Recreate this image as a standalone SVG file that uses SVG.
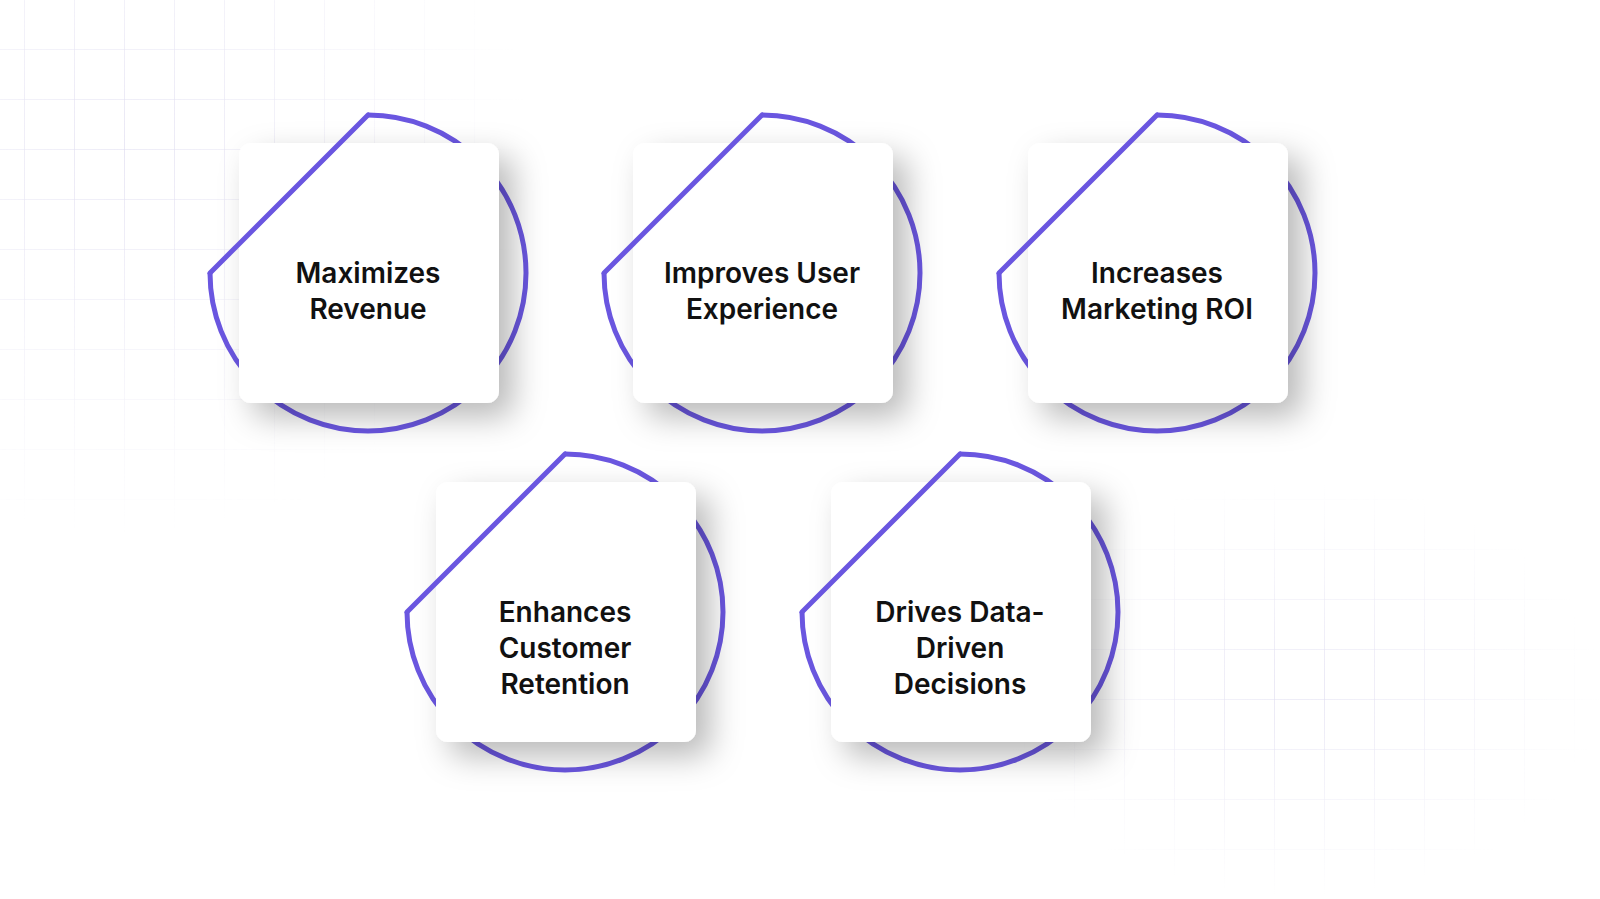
<svg xmlns="http://www.w3.org/2000/svg" width="1600" height="899" viewBox="0 0 1600 899">
<defs>
<pattern id="grid" x="25" y="0" width="50" height="50" patternUnits="userSpaceOnUse"><path d="M50 0V50M0 50H50" fill="none" stroke="#dcd9ef" stroke-width="1.2"/></pattern>
<radialGradient id="g1" cx="0.2" cy="0.25" r="0.65"><stop offset="0" stop-color="#fff"/><stop offset="1" stop-color="#000"/></radialGradient>
<radialGradient id="g2" cx="0.5" cy="0.5" r="0.5"><stop offset="0" stop-color="#fff"/><stop offset="1" stop-color="#000"/></radialGradient>
<mask id="m1"><rect x="0" y="0" width="620" height="600" fill="url(#g1)"/></mask>
<mask id="m2"><rect x="1000" y="480" width="600" height="419" fill="url(#g2)"/></mask>
<filter id="sh" x="-30%" y="-30%" width="160%" height="160%"><feDropShadow dx="14" dy="14" stdDeviation="16" flood-color="#000" flood-opacity="0.28"/></filter>
<g id="shape">
<path d="M0 -158 A158 158 0 1 1 -158 0" fill="none" stroke="#6a56e0" stroke-width="5"/>
<rect x="-129" y="-130" width="260" height="260" rx="12" fill="#fff" filter="url(#sh)"/>
<path d="M-158 0 L0 -158" fill="none" stroke="#6a56e0" stroke-width="5" stroke-linecap="round"/>
</g>
</defs>
<style>text{font-family:Inter,"Noto Sans",sans-serif;font-weight:600;font-size:28px;fill:#111;text-anchor:middle}</style>
<rect width="1600" height="899" fill="#fff"/>
<rect x="0" y="0" width="620" height="600" fill="url(#grid)" mask="url(#m1)"/>
<rect x="1000" y="480" width="600" height="419" fill="url(#grid)" mask="url(#m2)"/>
<g id="connectors"/>
<g id="n1" transform="translate(368,273)"><use href="#shape"/><text y="10">Maximizes</text><text y="46">Revenue</text></g>
<g id="n2" transform="translate(762,273)"><use href="#shape"/><text y="10">Improves User</text><text y="46">Experience</text></g>
<g id="n3" transform="translate(1157,273)"><use href="#shape"/><text y="10">Increases</text><text y="46">Marketing ROI</text></g>
<g id="n4" transform="translate(565,612)"><use href="#shape"/><text y="10">Enhances</text><text y="46">Customer</text><text y="82">Retention</text></g>
<g id="n5" transform="translate(960,612)"><use href="#shape"/><text y="10">Drives Data-</text><text y="46">Driven</text><text y="82">Decisions</text></g>
</svg>
